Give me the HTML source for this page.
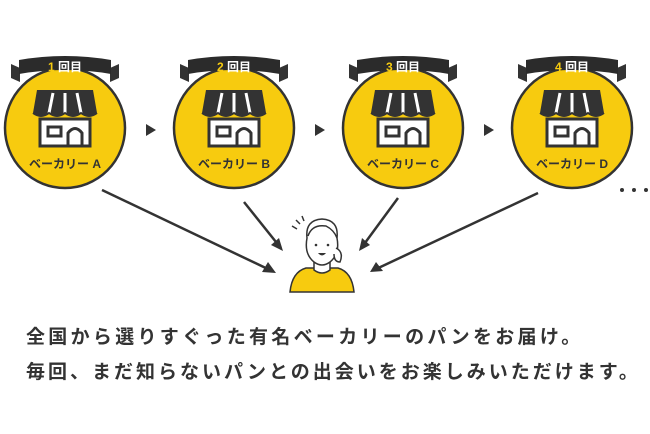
<!DOCTYPE html>
<html><head><meta charset="utf-8"><style>
html,body{margin:0;padding:0;background:#fff;width:650px;height:434px;overflow:hidden}
.t{position:absolute;left:26px;font-family:"Liberation Sans","Noto Sans CJK JP",sans-serif;font-weight:bold;font-size:19px;letter-spacing:3.3px;color:#333;white-space:nowrap}
</style></head><body>
<svg width="650" height="434" style="position:absolute;left:0;top:0" font-family="Liberation Sans, Noto Sans CJK JP, sans-serif">
<defs>
<g id="shop">
  <circle cx="0" cy="0" r="60" fill="#f7cb0f" stroke="#333" stroke-width="2.5"/>
  <path d="M-54,-64 L-45,-60 L-45,-46 L-54,-50 Z M54,-64 L45,-60 L45,-46 L54,-50 Z" fill="#333"/>
  <path d="M-46,-68 Q0,-76 46,-68 L46,-54 Q0,-62 -46,-54 Z" fill="#2b2b2b"/>
  <path d="M-28,-38 L28,-38 L32,-15 L-32,-15 Z" fill="#333"/>
  <path d="M-12,-35 L-16,-15 M0,-35 L0,-15 M12,-35 L16,-15" stroke="#fff" stroke-width="3"/>
  <path d="M-32,-15 Q-24,-9 -16,-15 Q-8,-9 0,-15 Q8,-9 16,-15 Q24,-9 32,-15" fill="#333" stroke="#333" stroke-width="2"/>
  <rect x="-25" y="-9" width="50" height="27" fill="#fff" stroke="#333" stroke-width="3"/>
  <rect x="-17" y="-1" width="13" height="9" fill="none" stroke="#333" stroke-width="3"/>
  <path d="M3,18 L3,5 Q10,-4 17,5 L17,18" fill="none" stroke="#333" stroke-width="3"/>
</g>
<path id="tri" d="M0,-6 L10,0 L0,6 Z" fill="#333"/>
</defs>
<g transform="translate(65,128)"><use href="#shop"/><text x="0" y="-57" text-anchor="middle" font-size="12" font-weight="bold"><tspan fill="#f7cb0f">1</tspan><tspan fill="#fff"> 回目</tspan></text><text x="0" y="40" text-anchor="middle" font-size="12" font-weight="bold" fill="#333">ベーカリー A</text></g>
<g transform="translate(234,128)"><use href="#shop"/><text x="0" y="-57" text-anchor="middle" font-size="12" font-weight="bold"><tspan fill="#f7cb0f">2</tspan><tspan fill="#fff"> 回目</tspan></text><text x="0" y="40" text-anchor="middle" font-size="12" font-weight="bold" fill="#333">ベーカリー B</text></g>
<g transform="translate(403,128)"><use href="#shop"/><text x="0" y="-57" text-anchor="middle" font-size="12" font-weight="bold"><tspan fill="#f7cb0f">3</tspan><tspan fill="#fff"> 回目</tspan></text><text x="0" y="40" text-anchor="middle" font-size="12" font-weight="bold" fill="#333">ベーカリー C</text></g>
<g transform="translate(572,128)"><use href="#shop"/><text x="0" y="-57" text-anchor="middle" font-size="12" font-weight="bold"><tspan fill="#f7cb0f">4</tspan><tspan fill="#fff"> 回目</tspan></text><text x="0" y="40" text-anchor="middle" font-size="12" font-weight="bold" fill="#333">ベーカリー D</text></g>
<use href="#tri" x="146" y="130"/><use href="#tri" x="315" y="130"/><use href="#tri" x="484" y="130"/>
<circle cx="622" cy="190" r="2" fill="#333"/><circle cx="634" cy="190" r="2" fill="#333"/><circle cx="646" cy="190" r="2" fill="#333"/>
<g stroke="#333" stroke-width="2.5" fill="none">
<line x1="102" y1="190" x2="272" y2="271"/>
<line x1="244" y1="202" x2="280" y2="247"/>
<line x1="398" y1="198" x2="362" y2="247"/>
<line x1="538" y1="193" x2="374" y2="270"/>
</g>
<g fill="#333">
<path d="M276,273 L262,272 L268,262 Z"/>
<path d="M283,251 L271,245 L279,238 Z"/>
<path d="M359,251 L362,238 L370,245 Z"/>
<path d="M370,272 L376,262 L383,271 Z"/>
</g>
<path d="M290,292 Q292,272 306,268 L338,268 Q352,272 354,292 Z" fill="#f7cb0f" stroke="#333" stroke-width="1.5"/>
<path d="M314,262 L314,270 Q322,276 330,270 L330,262" fill="#fff" stroke="#333" stroke-width="1.5"/>
<path d="M307,238 Q305,220 322,219 Q339,220 337,238 Q340,254 330,262 Q322,268 314,262 Q304,254 307,238 Z" fill="#fff" stroke="#333" stroke-width="1.5"/>
<path d="M308,236 Q312,224 326,226 Q334,230 337,238" fill="none" stroke="#333" stroke-width="1.5"/>
<path d="M336,248 Q344,252 340,262 Q334,262 334,254" fill="#fff" stroke="#333" stroke-width="1.5"/>
<circle cx="316" cy="245" r="1.3" fill="#333"/><circle cx="328" cy="245" r="1.3" fill="#333"/>
<path d="M318,253 Q322,258 326,253 Z" fill="#333"/>
<path d="M292,226 L297,229 M296,220 L300,224 M302,216 L304,221" stroke="#333" stroke-width="1.5"/>
</svg>
<div class="t" style="top:322px">全国から選りすぐった有名ベーカリーのパンをお届け。</div>
<div class="t" style="top:357px;letter-spacing:3px">毎回、まだ知らないパンとの出会いをお楽しみいただけます。</div>
</body></html>
